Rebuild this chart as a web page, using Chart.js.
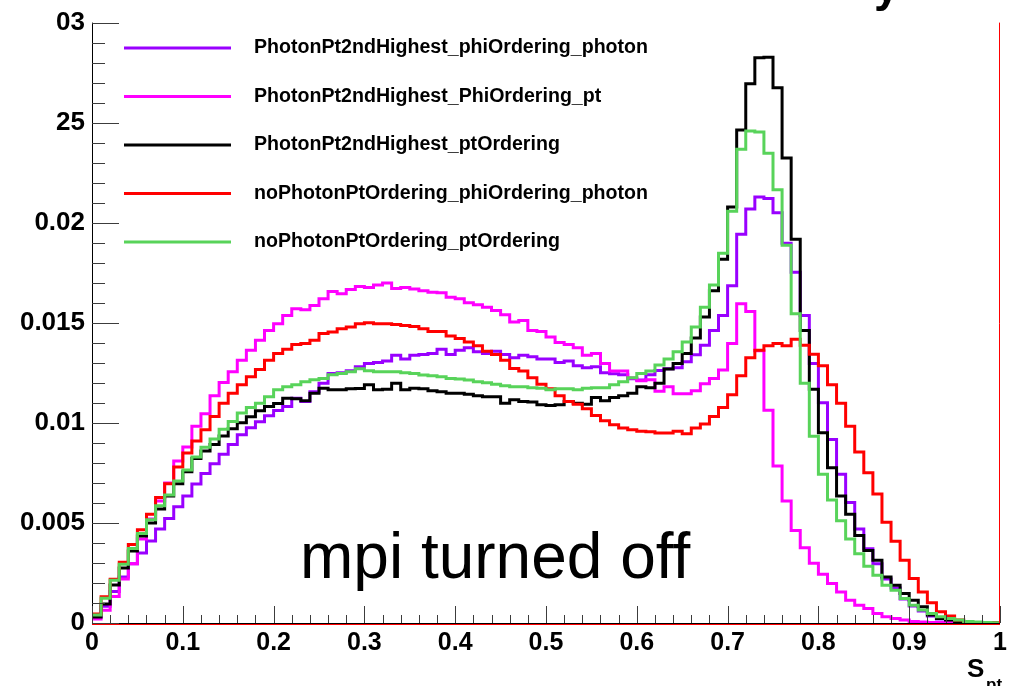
<!DOCTYPE html>
<html>
<head>
<meta charset="utf-8">
<script src="https://cdn.jsdelivr.net/npm/chart.js@4.4.1/dist/chart.umd.min.js"></script>
<style>
body{margin:0;background:#fff;}
#c{display:block;}
</style>
</head>
<body>
<canvas id="c" width="1018" height="686"></canvas>
<script>
// histogram contents, 100 bins of 0.01 between 0 and 1
var BIN_WIDTH = 0.01;

var phiOrderingPhoton = [
0.0003,0.00084,0.00158,0.0023,0.00296,0.0035,0.0041,0.0047,0.00522,0.00581,
0.00635,0.00695,0.00747,0.00796,0.00843,0.00892,0.0094,0.00975,0.01005,0.01035,
0.01062,0.01082,0.01123,0.01107,0.01156,0.01198,0.01247,0.0125,0.0126,0.0128,
0.01297,0.01302,0.01309,0.01338,0.01319,0.01338,0.01341,0.01346,0.01368,0.01341,
0.01363,0.01375,0.01355,0.01346,0.01358,0.01341,0.01325,0.01338,0.0133,0.01319,
0.01319,0.01302,0.01309,0.01285,0.01275,0.0128,0.0125,0.01245,0.0124,0.0122,
0.01214,0.0124,0.01262,0.0127,0.01275,0.01305,0.0134,0.01388,0.01462,0.01537,
0.01685,0.01942,0.02069,0.02129,0.02121,0.0205,0.01897,0.01752,0.01537,0.01297,
0.011,0.00917,0.00743,0.00602,0.0047,0.00371,0.00296,0.0022,0.00175,0.0012,
0.00085,0.0006,0.00035,0.0002,0.00012,0.00006,0.00003,0.00002,0.00001,0.0
];

var phiOrderingPt = [
0.0002,0.00064,0.00133,0.0022,0.00296,0.0042,0.0052,0.0061,0.007,0.0081,
0.0088,0.00983,0.01045,0.01136,0.01202,0.01256,0.01313,0.01363,0.01413,0.01462,
0.01495,0.01537,0.0157,0.01565,0.01587,0.0162,0.01656,0.01645,0.01666,0.01682,
0.01677,0.01689,0.01699,0.01672,0.01677,0.01669,0.0166,0.01653,0.0165,0.01628,
0.0162,0.016,0.0159,0.01578,0.01562,0.0154,0.01504,0.01512,0.01462,0.01457,
0.01429,0.01401,0.01391,0.01375,0.01338,0.01346,0.01297,0.01259,0.01259,0.01224,
0.0121,0.01215,0.01158,0.01181,0.01146,0.01146,0.0116,0.01195,0.01222,0.01264,
0.01396,0.01595,0.01557,0.0136,0.01063,0.00784,0.0061,0.00462,0.00376,0.00299,
0.00243,0.00197,0.00155,0.00114,0.00089,0.00073,0.00048,0.00031,0.00023,0.00015,
0.00007,0.00005,0.00003,0.00002,0.00002,0.00001,0.00001,0.00001,0.0,0.0
];

var ptOrdering2nd = [
0.0003,0.00095,0.0019,0.00275,0.0036,0.00435,0.005,0.0057,0.00635,0.00696,
0.00756,0.00822,0.00859,0.00892,0.00935,0.0097,0.01,0.0103,0.0106,0.01082,
0.01097,0.01123,0.0112,0.0111,0.01148,0.01173,0.01165,0.01165,0.0117,0.01172,
0.0119,0.01165,0.01168,0.01198,0.01165,0.01173,0.0117,0.0116,0.01156,0.01148,
0.01148,0.01143,0.01136,0.01131,0.01131,0.01098,0.01115,0.01107,0.01104,0.0109,
0.01087,0.0109,0.01107,0.01098,0.01093,0.01127,0.0111,0.01127,0.01136,0.01148,
0.01181,0.01176,0.01198,0.01269,0.01297,0.01346,0.01424,0.01529,0.0166,0.01818,
0.02078,0.02463,0.02695,0.02824,0.02827,0.02675,0.02323,0.01917,0.01462,0.01168,
0.0095,0.00776,0.00635,0.00544,0.00437,0.00362,0.00313,0.0023,0.00189,0.00147,
0.00114,0.00081,0.0004,0.00023,0.00015,0.00007,0.00003,0.00002,0.00001,0.0
];

var noPtPhiOrderingPhoton = [
0.00045,0.00131,0.00218,0.00304,0.00392,0.00466,0.00544,0.00627,0.00696,0.00779,
0.0085,0.0091,0.00966,0.01032,0.01098,0.01148,0.0119,0.01231,0.01267,0.01313,
0.01346,0.01368,0.01391,0.01396,0.01413,0.01446,0.01454,0.0147,0.01479,0.01495,
0.015,0.01495,0.01495,0.01492,0.01487,0.01482,0.0147,0.01457,0.01457,0.01434,
0.01421,0.01404,0.01385,0.01358,0.01341,0.01313,0.01272,0.01259,0.01226,0.01193,
0.0117,0.01136,0.01107,0.01093,0.0107,0.01037,0.0101,0.00991,0.00974,0.00966,
0.00958,0.00955,0.00949,0.00949,0.00958,0.00945,0.00974,0.00994,0.01032,0.01077,
0.0114,0.01236,0.01325,0.01363,0.01385,0.01396,0.01385,0.01418,0.01388,0.01343,
0.01285,0.0119,0.01098,0.00983,0.00855,0.00751,0.00644,0.00503,0.00409,0.00313,
0.00222,0.00155,0.00101,0.00056,0.00035,0.00015,0.00007,0.00003,0.00002,0.00001
];

var noPtPtOrdering = [
0.0004,0.00124,0.00213,0.00293,0.00372,0.00447,0.00516,0.00586,0.0064,0.0071,
0.00764,0.00829,0.00878,0.0092,0.00968,0.01007,0.01049,0.01077,0.01098,0.0113,
0.01165,0.0118,0.0119,0.01206,0.01216,0.01222,0.0124,0.01247,0.01256,0.0127,
0.0126,0.01256,0.01256,0.01256,0.0125,0.01247,0.01239,0.01236,0.01231,0.01222,
0.01219,0.01214,0.01206,0.01201,0.01193,0.01186,0.01181,0.01181,0.01176,0.01173,
0.01165,0.0117,0.0117,0.01165,0.01173,0.01176,0.01176,0.0119,0.01206,0.01225,
0.01247,0.01259,0.01289,0.01319,0.01355,0.01404,0.01479,0.01578,0.01689,0.01848,
0.02058,0.02367,0.02458,0.02453,0.02347,0.02165,0.01887,0.01545,0.01198,0.00933,
0.00743,0.00614,0.00511,0.0042,0.00346,0.00283,0.00238,0.00189,0.00164,0.00122,
0.00089,0.00065,0.00048,0.00031,0.00023,0.00015,0.00007,0.00005,0.00003,0.00001
];

var seriesNames = [
"PhotonPt2ndHighest_phiOrdering_photon",
"PhotonPt2ndHighest_PhiOrdering_pt",
"PhotonPt2ndHighest_ptOrdering",
"noPhotonPtOrdering_phiOrdering_photon",
"noPhotonPtOrdering_ptOrdering"
];
var seriesColors = ["#9900ff","#ff00ff","#000000","#ff0000","#58d35a"];
// ROOT drew them in legend order, last one ends up on top
var seriesOrder = [4,3,2,1,0];

var xTickLabels = ["0","0.1","0.2","0.3","0.4","0.5","0.6","0.7","0.8","0.9","1"];
var yTickLabels = ["0","0.005","0.01","0.015","0.02","25","03"];

var FONT = "'Liberation Sans', Arial, Helvetica, sans-serif";

function histPoints(vals){
	var pts = new Array();
	for (var i = 0; i < vals.length; i++){
		pts.push({x: i*BIN_WIDTH, y: vals[i]});
	}
	pts.push({x: vals.length*BIN_WIDTH, y: vals[vals.length-1]});
	return pts;
}

var allSeries = [phiOrderingPhoton, phiOrderingPt, ptOrdering2nd, noPtPhiOrderingPhoton, noPtPtOrdering];
var DATASETS = new Array();
for (var s = 0; s < allSeries.length; s++){
	DATASETS.push({
		label: seriesNames[s],
		data: histPoints(allSeries[s]),
		borderColor: seriesColors[s],
		backgroundColor: seriesColors[s],
		borderWidth: 3,
		stepped: 'before',
		pointRadius: 0,
		fill: false,
		borderJoinStyle: 'miter',
		borderCapStyle: 'butt',
		order: seriesOrder[s]
	});
}

// axis ticks inside the frame, legend box, labels
var rootStyle = {
	id: 'rootStyle',
	beforeDraw: function(chart){
		var ctx = chart.ctx;
		ctx.save();
		ctx.fillStyle = '#fff';
		ctx.fillRect(0, 0, chart.width, chart.height);
		ctx.restore();
	},
	afterDatasetsDraw: function(chart){
		var ctx = chart.ctx;
		var xs = chart.scales.x, ys = chart.scales.y, a = chart.chartArea;
		ctx.save();

		// red frame pieces (right and bottom)
		ctx.strokeStyle = '#ff0000';
		ctx.lineWidth = 1;
		ctx.beginPath();
		ctx.moveTo(Math.round(a.right)-0.5, a.top);
		ctx.lineTo(Math.round(a.right)-0.5, a.bottom+1);
		ctx.moveTo(a.left, Math.round(a.bottom)+1.5);
		ctx.lineTo(a.right, Math.round(a.bottom)+1.5);
		ctx.stroke();

		// axes
		ctx.strokeStyle = '#000';
		ctx.beginPath();
		ctx.moveTo(Math.round(a.left)+0.5, a.top);
		ctx.lineTo(Math.round(a.left)+0.5, a.bottom+1);
		ctx.moveTo(a.left, Math.round(a.bottom)+0.5);
		ctx.lineTo(a.right, Math.round(a.bottom)+0.5);
		ctx.stroke();

		ctx.strokeStyle = '#3c3c3c';
		ctx.beginPath();
		for (var k = 0; k <= 30; k++){
			var py = Math.round(ys.getPixelForValue(k*0.001))+0.5;
			var len = (k%5==0) ? 27 : 13;
			ctx.moveTo(a.left, py);
			ctx.lineTo(a.left+len, py);
		}
		for (var k = 0; k <= 50; k++){
			var px = Math.round(xs.getPixelForValue(k*0.02))+0.5;
			var len = (k%5==0) ? 17 : 8;
			ctx.moveTo(px, a.bottom);
			ctx.lineTo(px, a.bottom-len);
		}
		ctx.stroke();

		// legend
		ctx.textBaseline = 'middle';
		ctx.textAlign = 'left';
		ctx.font = 'bold 19.6px ' + FONT;
		for (var i = 0; i < chart.data.datasets.length; i++){
			var ds = chart.data.datasets[i];
			var ly = 48 + i*48.5;
			ctx.strokeStyle = ds.borderColor;
			ctx.lineWidth = 3;
			ctx.beginPath();
			ctx.moveTo(124, ly);
			ctx.lineTo(231, ly);
			ctx.stroke();
			ctx.fillStyle = '#000';
			ctx.fillText(ds.label, 254, ly);
		}

		// annotation
		ctx.textBaseline = 'alphabetic';
		ctx.fillStyle = '#000';
		ctx.font = '64px ' + FONT;
		ctx.fillText('mpi turned off', 300, 578);

		// x axis title
		ctx.font = 'bold 26px ' + FONT;
		ctx.fillText('S', 967, 677);
		ctx.font = 'bold 17px ' + FONT;
		ctx.fillText('pt', 986, 690);

		// what is left of the title above the frame
		ctx.font = 'bold 46px ' + FONT;
		ctx.fillText('y', 874, 1);
		ctx.restore();
	}
};

new Chart(document.getElementById('c').getContext('2d'), {
	type: 'line',
	data: { datasets: DATASETS },
	options: {
		responsive: false,
		animation: false,
		devicePixelRatio: 1,
		layout: { padding: { top: 18, right: 18, left: 0, bottom: 0 } },
		plugins: { legend: { display: false }, tooltip: { enabled: false } },
		scales: {
			x: {
				type: 'linear',
				min: 0,
				max: 1,
				grid: { display: false, drawTicks: false, tickLength: 0 },
				border: { display: false },
				afterFit: function(scale){ scale.height = 63; },
				afterBuildTicks: function(scale){
					var t = new Array();
					for (var i = 0; i < xTickLabels.length; i++) t.push({value: i*0.1});
					scale.ticks = t;
				},
				ticks: {
					autoSkip: false,
					maxRotation: 0,
					padding: 5,
					color: '#000',
					font: { family: FONT, weight: 'bold', size: 25 },
					callback: function(v, i){ return xTickLabels[i]; }
				}
			},
			y: {
				type: 'linear',
				min: 0,
				max: 0.03,
				grid: { display: false, drawTicks: false, tickLength: 0 },
				border: { display: false },
				afterFit: function(scale){ scale.width = 92; },
				afterBuildTicks: function(scale){
					var t = new Array();
					for (var i = 0; i < yTickLabels.length; i++) t.push({value: i*0.005});
					scale.ticks = t;
				},
				ticks: {
					autoSkip: false,
					padding: 7,
					color: '#000',
					font: { family: FONT, weight: 'bold', size: 26 },
					callback: function(v, i){ return yTickLabels[i]; }
				}
			}
		}
	},
	plugins: [rootStyle]
});
</script>
</body>
</html>
